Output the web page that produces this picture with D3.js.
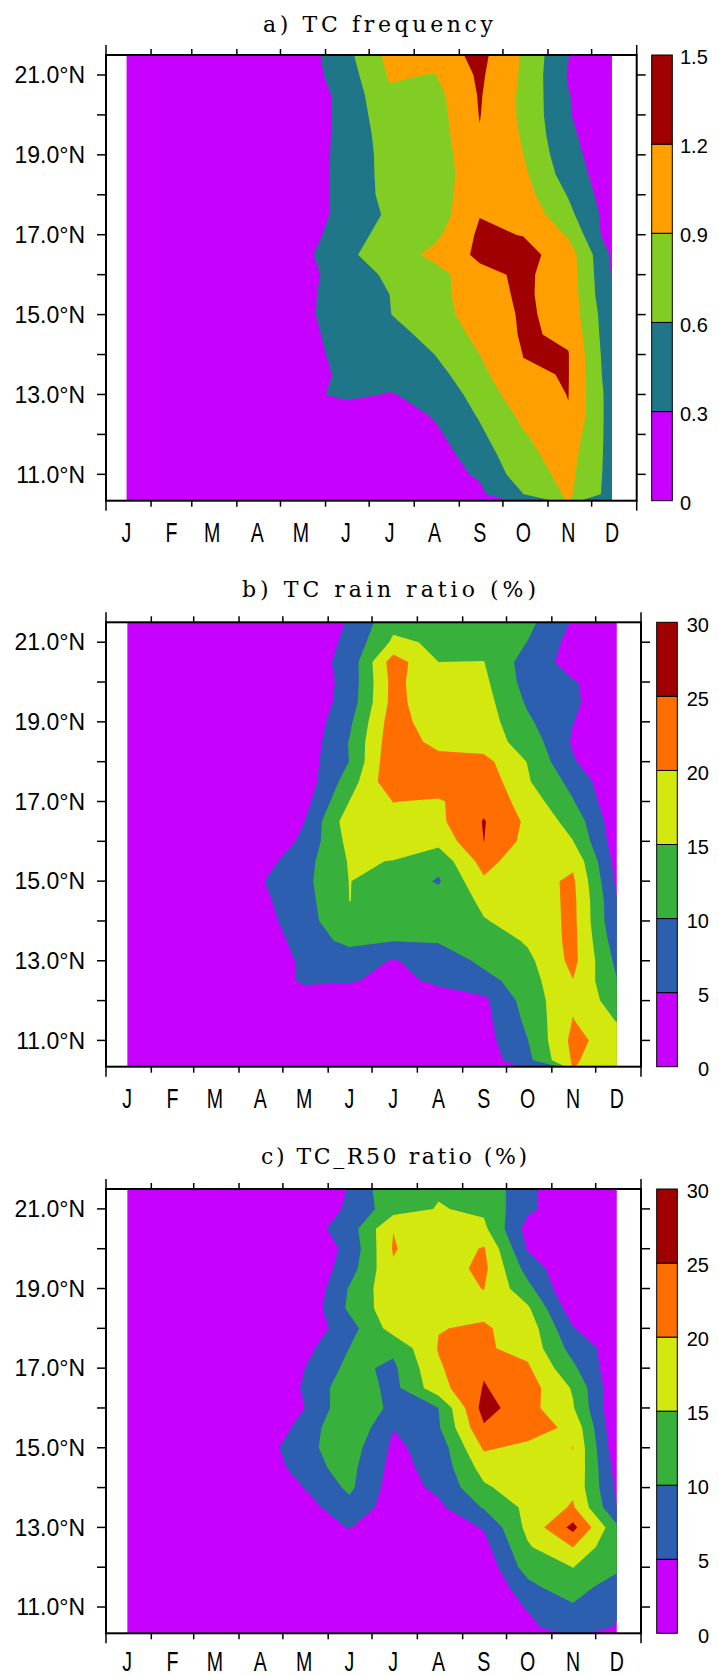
<!DOCTYPE html>
<html><head><meta charset="utf-8">
<script src="https://cdn.jsdelivr.net/npm/d3@7"></script>
<style>body{margin:0;background:#fff}svg{display:block}</style>
</head><body>
<svg id="chart" width="719" height="1676"></svg>
<script>
// ---------------- data ----------------
const monthLabels = ["J","F","M","A","M","J","J","A","S","O","N","D"];
const latRows = [21.5,21.0,20.5,20.0,19.5,19.0,18.5,18.0,17.5,17.0,16.5,16.0,15.5,15.0,14.5,14.0,13.5,13.0,12.5,12.0,11.5,11.0,10.5];
const latTicks = [11,12,13,14,15,16,17,18,19,20,21];
const latLabelTicks = [11,13,15,17,19,21];
const freqLevels = [0,0.3,0.6,0.9,1.2,1.5];
const freqLabels = ["0","0.3","0.6","0.9","1.2","1.5"];
const ratioLevels = [0,5,10,15,20,25,30];
const ratioLabels = ["0","5","10","15","20","25","30"];
const freqColors = ["#c800ff","#1e7688","#82cd24","#ffa000","#a00000"];
const ratioColors = ["#c800ff","#2c5fb0","#38b03c","#d2e80f","#ff6e00","#a00000"];
const titles = ["a) TC frequency","b) TC rain ratio (%)","c) TC_R50 ratio (%)"];

// rows: latRows (north -> south); columns: Jan..Dec
const tcFrequency = [
[0,0,0,0,0.14,0.51,0.99,1.03,1.29,0.86,0.31,0.10],
[0,0,0,0,0.14,0.455,0.93,0.89,1.25,0.856,0.275,0.10],
[0,0,0,0,0.10,0.40,0.86,0.80,1.225,0.835,0.31,0.10],
[0,0,0,0,0.08,0.40,0.79,0.77,1.21,0.84,0.315,0.10],
[0,0,0,0,0.08,0.41,0.73,0.75,1.185,0.87,0.34,0.15],
[0,0,0,0,0.08,0.42,0.70,0.74,1.12,0.90,0.395,0.11],
[0,0,0,0,0.08,0.43,0.69,0.73,1.10,0.96,0.46,0.11],
[0,0,0,0,0.08,0.43,0.68,0.73,1.14,1.02,0.58,0.11],
[0,0,0,0,0.08,0.43,0.64,0.73,1.19,1.12,0.68,0.145],
[0,0,0,0,0.08,0.54,0.65,0.83,1.25,1.19,0.87,0.10],
[0,0,0,0,0.20,0.55,0.73,0.98,1.26,1.30,1.05,0.25],
[0,0,0,0,0.12,0.54,0.62,0.78,1.12,1.25,1.06,0.28],
[0,0,0,0,0.15,0.57,0.60,0.78,1.10,1.24,1.08,0.30],
[0,0,0,0,0.20,0.50,0.59,0.84,0.97,1.25,1.09,0.37],
[0,0,0,0,0.18,0.45,0.555,0.64,1.00,1.23,1.16,0.37],
[0,0,0,0,0.15,0.42,0.50,0.60,0.90,1.205,1.21,0.39],
[0,0,0,0,0.10,0.39,0.45,0.49,0.82,1.175,1.21,0.415],
[0,0,0,0,0.20,0.38,0.28,0.405,0.71,1.10,1.205,0.454],
[0,0,0,0,0.05,0.10,0.15,0.33,0.63,0.97,1.19,0.46],
[0,0,0,0,0.03,0.05,0.10,0.24,0.55,0.88,1.09,0.48],
[0,0,0,0,0.02,0.03,0.06,0.17,0.45,0.83,1.02,0.49],
[0,0,0,0,0.02,0.03,0.05,0.20,0.33,0.77,0.98,0.49],
[0,0,0,0,0.01,0.02,0.03,0.10,0.25,0.595,0.95,0.48]
];
const tcRainRatio = [
[0,0,0,0,0,5.6,13.5,13,15.05,11.3,4.5,2],
[0,0,0,0,1.2,6.25,15.9,14.3,13.5,9.9,3.2,1.5],
[0,0,0,0,2.3,6.7,22.5,15.0,15.1,7.7,3.2,1],
[0,0,0,0,1.2,6.8,21.7,15.6,16.05,8.0,5.3,2.8],
[0,0,0,0,1.25,7.2,21.8,16.0,16.9,9.3,5.6,2.4],
[0,0,0,0,1.2,9.0,22.8,16.3,17.5,10.8,5.1,2],
[0,0,0,0,1.6,10.25,23.4,18.25,17.4,13.0,4.4,1.5],
[0,0,0,0,2.4,10.1,24.3,22,21.6,14.8,5.4,1],
[0,0,0,0,1.9,12.5,24.1,23.5,23.3,15.5,8.4,0.7],
[0,0,0,0,3.1,15.05,20.1,19.4,23.6,17.8,10.3,1.0],
[0,0,0,0,4.9,17.9,18.5,18.9,25.3,19.0,13.2,1.7],
[0,0,0,0,6.2,16.5,17,16.5,25.05,18.3,15.1,2.1],
[0,0,0,2.8,8.2,15.4,14.9,11.6,22.0,16.4,19,3.1],
[0,0,0,4.6,8.7,15.1,13,9.5,19.2,18.1,20.8,4.0],
[0,0,0,3.8,8.2,15.02,14.4,12,15.75,16.9,21.2,5.3],
[0,0,0,3,7.9,14.2,13.5,12.5,14.8,16.3,21.3,5.5],
[0,0,0,2,7,11.6,10.1,10.5,12,15.6,21.4,7.1],
[0,0,0,1,6.1,6.5,4.8,6.3,11.4,13.8,21.4,8.75],
[0,0,0,0.5,6,5.5,3.5,6,8.1,12.9,19.9,10.2],
[0,0,0,0,1.5,1.5,1.5,2.5,4.0,12.2,19.2,12.4],
[0,0,0,0,1,1,1,2,3.5,11.1,20.2,14.75],
[0,0,0,0,0.5,0.5,0.5,1.5,3.07,9.9,21.3,17.7],
[0,0,0,0,0.3,0.3,0.3,1,2.2,8.6,20.6,16.85]
];
const tcR50Ratio = [
[0,0,0,0,0,5.3,14.2,14.5,14.2,5.8,2,0.5],
[0,0,0,0,0,6.1,12.8,15.3,14.1,5.9,2,0.5],
[0,0,0,0,2.5,7.5,19.9,17,16.1,3.2,1,0.5],
[0,0,0,0,0.9,6.3,20.4,16.4,20.5,4.5,1,0.5],
[0,0,0,0,0,7.8,19.4,17.6,21.2,8,0.5,0.5],
[0,0,0,0,0,10.4,18.8,18.5,20.1,11.5,0,0.5],
[0,0,0,0,0.9,10.9,18.2,18.5,19,15.8,2,0.5],
[0,0,0,0,1.5,8,17.1,19.85,20.5,18,5.3,0.5],
[0,0,0,0,3.4,10.05,11,20.3,20.6,18.5,8.1,2.4],
[0,0,0,0,4.9,11.4,9.0,19.4,24.5,20.7,11,1.2],
[0,0,0,0,5.5,13.4,8.5,18.1,25.3,22.3,14.5,0.8],
[0,0,0,0,4.9,13.8,8.9,10,27,21.8,15.4,0.5],
[0,0,0,0,7.1,14.7,5.1,9.5,24.4,22.4,18.8,0.5],
[0,0,0,2,8.8,12.5,4.1,7,20.7,18.8,20.05,1.4],
[0,0,0,0,8.4,11.5,3.4,6.7,17,18,19.5,3],
[0,0,0,0,5.1,11,2.7,6,14.2,18,19,4],
[0,0,0,0,3,8.3,2.6,4.05,10.4,16.2,20.6,5.1],
[0,0,0,0,3,5.2,2,2,5.4,16.3,26.5,11],
[0,0,0,0,1.5,2.5,1.5,1.5,3.3,14.4,20.05,10.3],
[0,0,0,0,1,1.5,1,1,1.5,12.3,15.05,12],
[0,0,0,0,0.5,0.5,0.5,0.5,0.5,8.3,14,5.5],
[0,0,0,0,0.5,0.5,0.5,0.5,0.5,5.5,9,6],
[0,0,0,0,0.2,0.2,0.2,0.2,0.3,3.5,9,4.55]
];

// ---------------- layout ----------------
const panels = [
 {id:"a", title:titles[0], grid:tcFrequency, levels:freqLevels, labels:freqLabels, colors:freqColors,
  year:2001, left:106, right:636.7, top:55, bottom:500.7, dayOffset:14, labelY:541.5,
  cbLeft:651.7, cbAnchor:"start", cbLabelX:680, titleX:263, titleY:32, titleW:230},
 {id:"b", title:titles[1], grid:tcRainRatio, levels:ratioLevels, labels:ratioLabels, colors:ratioColors,
  year:2000, left:106, right:641, top:622.3, bottom:1066.7, dayOffset:14.5, labelY:1107.5,
  cbLeft:656.7, cbAnchor:"end", cbLabelX:709, titleX:242, titleY:597, titleW:294},
 {id:"c", title:titles[2], grid:tcR50Ratio, levels:ratioLevels, labels:ratioLabels, colors:ratioColors,
  year:2000, left:106, right:641, top:1189, bottom:1633.3, dayOffset:14.5, labelY:1671,
  cbLeft:656.7, cbAnchor:"end", cbLabelX:709, titleX:261, titleY:1164, titleW:266}
];
const latMin = 10.34, latMax = 21.5;
const svg = d3.select("#chart");
const defs = svg.append("defs");
const DAY = 864e5;

panels.forEach(p => {
  const g = svg.append("g");
  const t0 = new Date(Date.UTC(p.year,0,1)), t1 = new Date(Date.UTC(p.year+1,0,1));
  const x = d3.scaleUtc().domain([t0,t1]).range([p.left,p.right]);
  const y = d3.scaleLinear().domain([latMin,latMax]).range([p.bottom,p.top]);
  const dataDates = d3.range(12).map(m => new Date(Date.UTC(p.year,m,1) + p.dayOffset*DAY));
  const colX = d3.scaleLinear().domain(d3.range(12)).range(dataDates.map(d => x(d)));
  const ny = p.grid.length, nx = 12;
  const rowLat = d3.scaleLinear().domain([0,ny-1]).range([latRows[0],latRows[ny-1]]);
  const proj = d3.geoTransform({point(px,py){ this.stream.point(colX(px-0.5), y(rowLat(py-0.5))); }});
  const path = d3.geoPath(proj);

  const x0 = colX(0), x1 = colX(11);
  defs.append("clipPath").attr("id","clip-"+p.id).append("rect")
    .attr("x",x0).attr("y",p.top).attr("width",x1-x0).attr("height",p.bottom-p.top);
  const field = g.append("g").attr("clip-path","url(#clip-"+p.id+")");
  field.append("rect").attr("x",x0).attr("y",p.top).attr("width",x1-x0).attr("height",p.bottom-p.top)
    .attr("fill",p.colors[0]);
  const thr = p.levels.slice(1,p.levels.length-1);
  const contours = d3.contours().size([nx,ny]).thresholds(thr)(p.grid.flat());
  field.selectAll("path.band").data(contours).join("path").attr("class","band")
    .attr("d",path).attr("fill",(d,i)=>p.colors[i+1]);

  // frame
  g.append("rect").attr("x",p.left).attr("y",p.top).attr("width",p.right-p.left).attr("height",p.bottom-p.top)
    .attr("fill","none").attr("stroke","#000").attr("stroke-width",2);
  // x ticks
  const mTicks = d3.utcMonth.range(t0,t1).concat([t1]);
  mTicks.forEach(d => {
    const len = (+d===+t0 || +d===+t1) ? 10 : 6;
    g.append("line").attr("x1",x(d)).attr("x2",x(d)).attr("y1",p.top).attr("y2",p.top-len).attr("stroke","#000").attr("stroke-width",1.5);
    g.append("line").attr("x1",x(d)).attr("x2",x(d)).attr("y1",p.bottom).attr("y2",p.bottom+len).attr("stroke","#000").attr("stroke-width",1.5);
  });
  dataDates.forEach((d,i) => {
    g.append("text").attr("transform",`translate(${x(d)},${p.labelY}) scale(0.7,1)`)
      .attr("text-anchor","middle").attr("font-family","Liberation Sans, Arial, sans-serif")
      .attr("font-size",28).text(monthLabels[i]);
  });
  // y ticks
  latTicks.forEach(v => {
    g.append("line").attr("x1",p.left-9).attr("x2",p.left).attr("y1",y(v)).attr("y2",y(v)).attr("stroke","#000").attr("stroke-width",1.5);
    g.append("line").attr("x1",p.right).attr("x2",p.right+9).attr("y1",y(v)).attr("y2",y(v)).attr("stroke","#000").attr("stroke-width",1.5);
  });
  latLabelTicks.forEach(v => {
    g.append("text").attr("x",85).attr("y",y(v)).attr("dy","0.36em").attr("text-anchor","end")
      .attr("font-family","Liberation Sans, Arial, sans-serif").attr("font-size",23)
      .text(d3.format(".1f")(v)+"°N");
  });
  // title
  g.append("text").attr("x",p.titleX).attr("y",p.titleY).attr("text-anchor","start")
    .attr("font-family","DejaVu Serif, serif").attr("font-size",22)
    .attr("textLength",p.titleW).attr("lengthAdjust","spacing").text(p.title);
  // colorbar
  const cb = d3.scaleLinear().domain([0,p.levels.length-1]).range([p.bottom,p.top]);
  p.colors.forEach((c,i) => {
    g.append("rect").attr("x",p.cbLeft).attr("y",cb(i+1)).attr("width",20.6).attr("height",cb(i)-cb(i+1))
      .attr("fill",c).attr("stroke","#000").attr("stroke-width",1);
  });
  p.labels.forEach((l,i) => {
    g.append("text").attr("x",p.cbLabelX).attr("y",cb(i)+2).attr("dy","0.36em").attr("text-anchor",p.cbAnchor)
      .attr("font-family","Liberation Sans, Arial, sans-serif").attr("font-size",20).text(l);
  });
});
</script>
</body></html>
